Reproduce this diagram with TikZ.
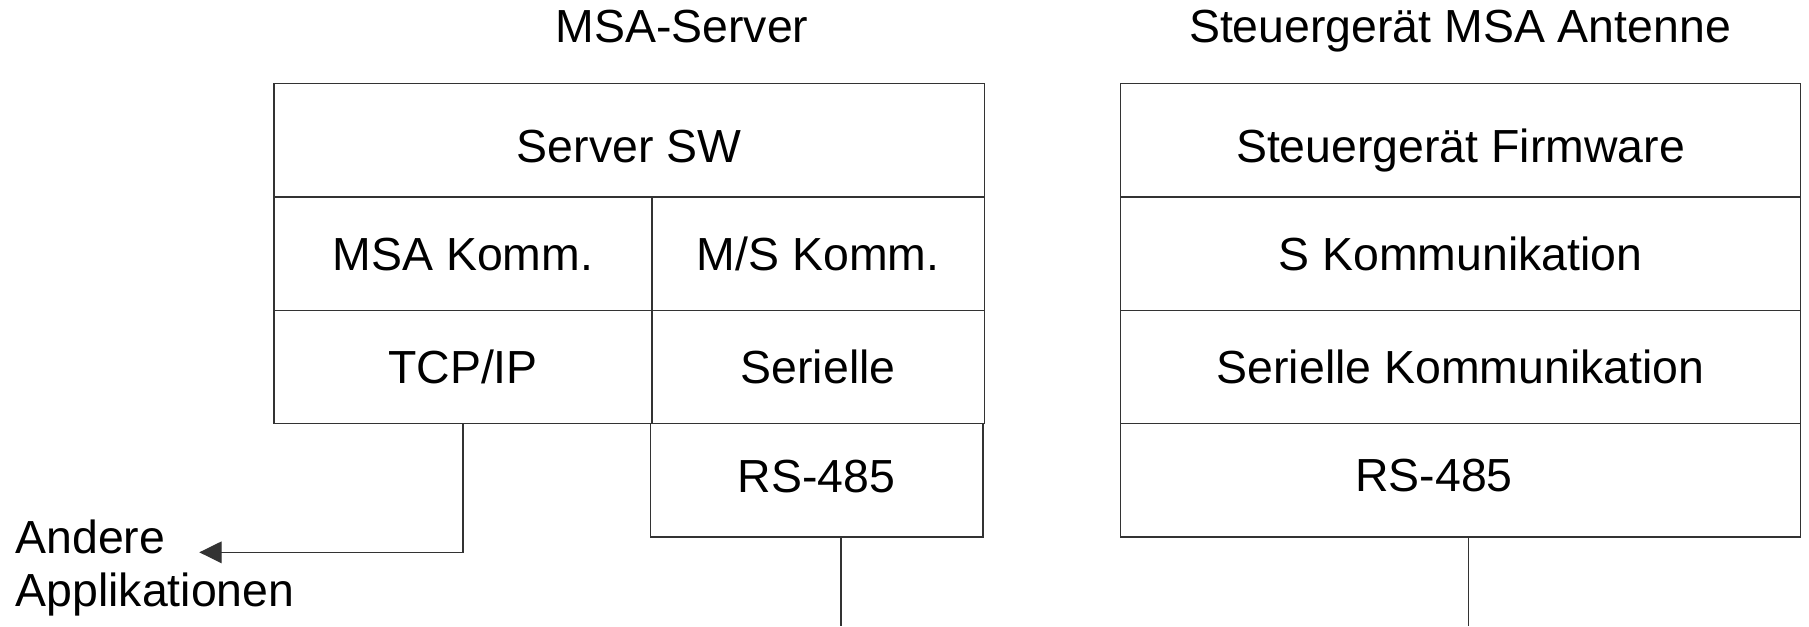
\documentclass[tikz,border=0pt]{standalone}
\usepackage{fontspec}
\setmainfont{Liberation Sans}
\usetikzlibrary{arrows.meta}

\begin{document}
\begin{tikzpicture}[x=0.01cm, y=-0.01cm, >={Triangle[length=0.224cm,width=0.217cm]},
    every node/.style={font=\fontsize{13.2}{15.2}\selectfont, inner sep=0pt, outer sep=0pt},
    layer/.style={draw=black!80, line width=0.4pt, minimum height=1.133cm, text height=9.45pt, text depth=0pt},
    toplayer/.style={layer, text height=12.6pt},
    baselayer/.style={layer, text depth=2.5pt},
    link/.style={draw=black!80, line width=0.4pt}]
    \useasboundingbox (0,0) rectangle (1809,626);
    % titles
    \node[anchor=base] (srvtitle) at (682,42.7) {MSA-Server};
    \node[anchor=base] (sgtitle) at (1460,42.7) {Steuergerät MSA Antenne};
    % MSA-Server stack
    \node[toplayer,minimum width=7.103cm] (srvsw) at (629.15,140.35) {Server SW};
    \node[layer,minimum width=3.78cm] (msakomm) at (463,253.75) {MSA Komm.};
    \node[layer,minimum width=3.323cm] (mskomm) at (818.15,253.75) {M/S Komm.};
    \node[layer,minimum width=3.78cm] (tcpip) at (463,367) {TCP/IP};
    \node[layer,minimum width=3.323cm] (seriell) at (818.15,367) {Serielle};
    \node[baselayer,minimum width=3.327cm] (rsl) at (816.65,480.25) {RS-485};
    % Steuergeraet stack
    \node[toplayer,minimum width=6.8cm] (firmware) at (1460.5,140.35) {Steuergerät Firmware};
    \node[layer,minimum width=6.8cm] (skomm) at (1460.5,253.75) {S Kommunikation};
    \node[layer,minimum width=6.8cm] (serkomm) at (1460.5,367) {Serielle Kommunikation};
    \node[layer,minimum width=6.8cm,label={[xshift=-0.265cm,yshift=0.045cm]center:RS-485}] (rsr) at (1460.5,480.25) {};
    % other applications
    \node[anchor=base west, align=left] (andere) at (15.6,606.7) {Andere\\Applikationen};
    \coordinate (apptip) at (199.3,552.3);
    \coordinate (busl) at (841,626);
    \coordinate (busr) at (1468.7,626);
    \draw[link,->] (tcpip.south) |- (apptip);
    \draw[link] (busl |- rsl.south) -- (busl);
    \draw[link] (busr |- rsr.south) -- (busr);
\end{tikzpicture}
\end{document}
